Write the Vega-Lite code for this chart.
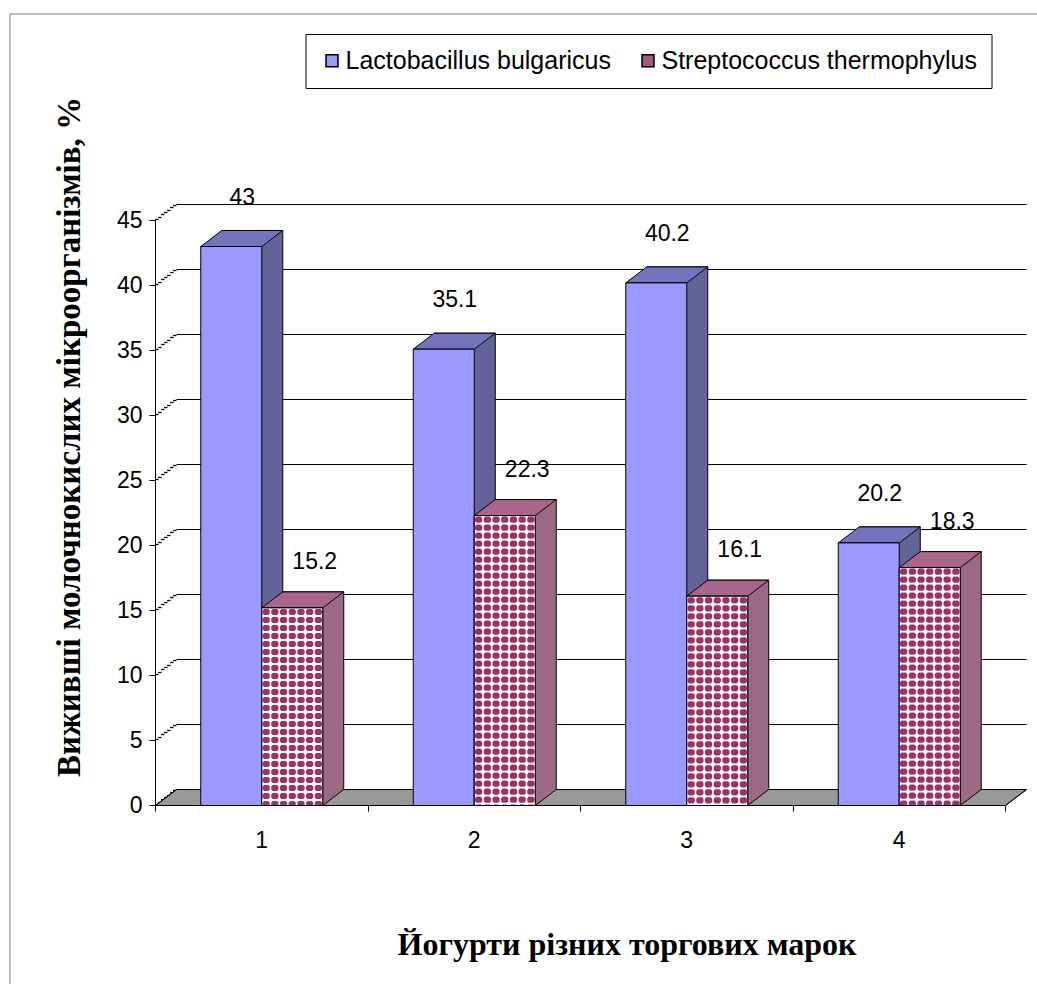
{
  "$schema": "https://vega.github.io/schema/vega-lite/v6.json",
  "autosize": {"type": "none"},
  "padding": {"left": 9.5, "top": 13.5, "right": 0, "bottom": 0},
  "width": 1027,
  "height": 970,
  "background": "white",
  "config": {
    "view": {"stroke": "#808080", "strokeWidth": 1, "strokeDash": [1027, 1997, 970, 0]},
    "font": "Liberation Sans",
    "style": {
      "spheres": {
        "shape": "M-28.2,1h4.2l1.5,1.5v3.2l-1.5,1.5h-4.2l-1.5,-1.5v-3.2l1.5,-1.5m8.7,0h4.2l1.5,1.5v3.2l-1.5,1.5h-4.2l-1.5,-1.5v-3.2l1.5,-1.5m8.7,0h4.2l1.5,1.5v3.2l-1.5,1.5h-4.2l-1.5,-1.5v-3.2l1.5,-1.5m8.7,0h4.2l1.5,1.5v3.2l-1.5,1.5h-4.2l-1.5,-1.5v-3.2l1.5,-1.5m8.7,0h4.2l1.5,1.5v3.2l-1.5,1.5h-4.2l-1.5,-1.5v-3.2l1.5,-1.5m8.7,0h4.2l1.5,1.5v3.2l-1.5,1.5h-4.2l-1.5,-1.5v-3.2l1.5,-1.5m8.7,0h4.2l1.5,1.5v3.2l-1.5,1.5h-4.2l-1.5,-1.5v-3.2l1.5,-1.5m-52.2,8h4.2l1.5,1.5v3.2l-1.5,1.5h-4.2l-1.5,-1.5v-3.2l1.5,-1.5m8.7,0h4.2l1.5,1.5v3.2l-1.5,1.5h-4.2l-1.5,-1.5v-3.2l1.5,-1.5m8.7,0h4.2l1.5,1.5v3.2l-1.5,1.5h-4.2l-1.5,-1.5v-3.2l1.5,-1.5m8.7,0h4.2l1.5,1.5v3.2l-1.5,1.5h-4.2l-1.5,-1.5v-3.2l1.5,-1.5m8.7,0h4.2l1.5,1.5v3.2l-1.5,1.5h-4.2l-1.5,-1.5v-3.2l1.5,-1.5m8.7,0h4.2l1.5,1.5v3.2l-1.5,1.5h-4.2l-1.5,-1.5v-3.2l1.5,-1.5m8.7,0h4.2l1.5,1.5v3.2l-1.5,1.5h-4.2l-1.5,-1.5v-3.2l1.5,-1.5m-52.2,8h4.2l1.5,1.5v3.2l-1.5,1.5h-4.2l-1.5,-1.5v-3.2l1.5,-1.5m8.7,0h4.2l1.5,1.5v3.2l-1.5,1.5h-4.2l-1.5,-1.5v-3.2l1.5,-1.5m8.7,0h4.2l1.5,1.5v3.2l-1.5,1.5h-4.2l-1.5,-1.5v-3.2l1.5,-1.5m8.7,0h4.2l1.5,1.5v3.2l-1.5,1.5h-4.2l-1.5,-1.5v-3.2l1.5,-1.5m8.7,0h4.2l1.5,1.5v3.2l-1.5,1.5h-4.2l-1.5,-1.5v-3.2l1.5,-1.5m8.7,0h4.2l1.5,1.5v3.2l-1.5,1.5h-4.2l-1.5,-1.5v-3.2l1.5,-1.5m8.7,0h4.2l1.5,1.5v3.2l-1.5,1.5h-4.2l-1.5,-1.5v-3.2l1.5,-1.5m-52.2,8h4.2l1.5,1.5v3.2l-1.5,1.5h-4.2l-1.5,-1.5v-3.2l1.5,-1.5m8.7,0h4.2l1.5,1.5v3.2l-1.5,1.5h-4.2l-1.5,-1.5v-3.2l1.5,-1.5m8.7,0h4.2l1.5,1.5v3.2l-1.5,1.5h-4.2l-1.5,-1.5v-3.2l1.5,-1.5m8.7,0h4.2l1.5,1.5v3.2l-1.5,1.5h-4.2l-1.5,-1.5v-3.2l1.5,-1.5m8.7,0h4.2l1.5,1.5v3.2l-1.5,1.5h-4.2l-1.5,-1.5v-3.2l1.5,-1.5m8.7,0h4.2l1.5,1.5v3.2l-1.5,1.5h-4.2l-1.5,-1.5v-3.2l1.5,-1.5m8.7,0h4.2l1.5,1.5v3.2l-1.5,1.5h-4.2l-1.5,-1.5v-3.2l1.5,-1.5m-52.2,8h4.2l1.5,1.5v3.2l-1.5,1.5h-4.2l-1.5,-1.5v-3.2l1.5,-1.5m8.7,0h4.2l1.5,1.5v3.2l-1.5,1.5h-4.2l-1.5,-1.5v-3.2l1.5,-1.5m8.7,0h4.2l1.5,1.5v3.2l-1.5,1.5h-4.2l-1.5,-1.5v-3.2l1.5,-1.5m8.7,0h4.2l1.5,1.5v3.2l-1.5,1.5h-4.2l-1.5,-1.5v-3.2l1.5,-1.5m8.7,0h4.2l1.5,1.5v3.2l-1.5,1.5h-4.2l-1.5,-1.5v-3.2l1.5,-1.5m8.7,0h4.2l1.5,1.5v3.2l-1.5,1.5h-4.2l-1.5,-1.5v-3.2l1.5,-1.5m8.7,0h4.2l1.5,1.5v3.2l-1.5,1.5h-4.2l-1.5,-1.5v-3.2l1.5,-1.5m-52.2,8",
        "size": 4, "strokeWidth": 0, "opacity": 1
      }
    }
  },
  "data": {
    "values": [
      {"brand": "1", "series": "Lactobacillus bulgaricus", "value": 43},
      {"brand": "1", "series": "Streptococcus thermophylus", "value": 15.2},
      {"brand": "2", "series": "Lactobacillus bulgaricus", "value": 35.1},
      {"brand": "2", "series": "Streptococcus thermophylus", "value": 22.3},
      {"brand": "3", "series": "Lactobacillus bulgaricus", "value": 40.2},
      {"brand": "3", "series": "Streptococcus thermophylus", "value": 16.1},
      {"brand": "4", "series": "Lactobacillus bulgaricus", "value": 20.2},
      {"brand": "4", "series": "Streptococcus thermophylus", "value": 18.3}
    ]
  },
  "resolve": {"scale": {"xOffset": "independent"}, "axis": {"x": "independent", "y": "independent"}},
  "layer": [
    {
      "mark": {"type": "point", "shape": "M-106,-0.5L106.9,-0.5L126.9,-15.5L-86,-15.5Z", "size": 4, "filled": true, "fill": "#999999", "strokeWidth": 0, "opacity": 1},
      "encoding": {
        "x": {"field": "brand", "type": "nominal", "scale": {"type": "band", "range": [146, 996], "paddingInner": 0, "paddingOuter": 0}, "axis": null},
        "y": {
          "datum": 0, "type": "quantitative",
          "scale": {"domain": [0, 45], "range": [792, 207], "nice": false, "zero": true},
          "axis": {"orient": "left", "translate": 21, "tickOffset": -37, "values": [0, 5, 10, 15, 20, 25, 30, 35, 40, 45], "grid": true, "gridColor": "black", "gridWidth": 1, "gridOpacity": 1, "domain": false, "ticks": false, "labels": false, "title": null}
        }
      }
    },
    {
      "transform": [{"filter": "datum.brand === '1' || datum.brand === '4'"}],
      "mark": {"type": "point", "size": 4, "filled": false, "color": "black", "strokeWidth": 1, "opacity": 1},
      "encoding": {
        "x": {"field": "brand", "type": "nominal", "axis": null},
        "y": {"datum": 0, "type": "quantitative",
          "axis": {"orient": "left", "translate": 0, "offset": -149, "tickOffset": -1.14, "tickSize": 3.4, "tickWidth": 1.3, "tickColor": "black", "values": [0, 5, 10, 15, 20, 25, 30, 35, 40, 45], "grid": false, "domain": false, "labels": false, "title": null}},
        "shape": {"condition": {"test": "datum.brand === '1'", "value": "M-106.25,0L-85.25,-16"}, "value": "M106.25,0L127.25,-16"}
      }
    },
    {
      "mark": {"type": "bar", "yOffset": -16, "stroke": "black", "strokeWidth": 1},
      "encoding": {
        "x": {"field": "brand", "type": "nominal", "axis": null},
        "xOffset": {"field": "series", "type": "nominal", "scale": {"type": "band", "domain": ["Lactobacillus bulgaricus", "Streptococcus thermophylus"], "range": [21, 233.5], "paddingInner": 0, "paddingOuter": 0.742}},
        "y": {"field": "value", "type": "quantitative",
          "axis": {"orient": "left", "translate": 0, "offset": -152, "tickOffset": -3.43, "tickSize": 3.4, "tickWidth": 1.3, "tickColor": "black", "values": [0, 5, 10, 15, 20, 25, 30, 35, 40, 45], "grid": false, "domain": false, "labels": false, "title": null}},
        "fill": {"condition": {"test": "datum.series === 'Lactobacillus bulgaricus'", "value": "#636398"}, "value": "#9C6A84"}
      }
    },
    {
      "mark": {"type": "point", "shape": "M30.5,0.5L30.5,-17L52,-17Z", "size": 4, "filled": true, "strokeWidth": 0, "opacity": 1},
      "encoding": {
        "x": {"field": "brand", "type": "nominal", "axis": null},
        "xOffset": {"field": "series", "type": "nominal", "scale": {"type": "band", "domain": ["Lactobacillus bulgaricus", "Streptococcus thermophylus"], "paddingInner": 0, "paddingOuter": 0.742}},
        "y": {"datum": 0, "type": "quantitative",
          "axis": {"orient": "left", "translate": 0, "offset": -155, "tickOffset": -5.71, "tickSize": 3.4, "tickWidth": 1.3, "tickColor": "black", "values": [0, 5, 10, 15, 20, 25, 30, 35, 40, 45], "grid": false, "domain": false, "labels": false, "title": null}},
        "fill": {"condition": {"test": "datum.series === 'Lactobacillus bulgaricus'", "value": "#636398"}, "value": "#9C6A84"}
      }
    },
    {
      "mark": {"type": "point", "shape": "M30.5,0L51.5,-16", "size": 4, "filled": false, "color": "black", "strokeWidth": 1, "opacity": 1},
      "encoding": {
        "x": {"field": "brand", "type": "nominal", "axis": null},
        "xOffset": {"field": "series", "type": "nominal", "scale": {"type": "band", "domain": ["Lactobacillus bulgaricus", "Streptococcus thermophylus"], "paddingInner": 0, "paddingOuter": 0.742}},
        "y": {"datum": 0, "type": "quantitative",
          "axis": {"orient": "left", "translate": 0, "offset": -158, "tickOffset": -8, "tickSize": 3.4, "tickWidth": 1.3, "tickColor": "black", "values": [0, 5, 10, 15, 20, 25, 30, 35, 40, 45], "grid": false, "domain": false, "labels": false, "title": null}}
      }
    },
    {
      "mark": {"type": "point", "shape": "M-30.5,0L30.5,0L51.5,-16L-9.5,-16Z", "size": 4, "filled": true, "stroke": "black", "strokeWidth": 1, "opacity": 1},
      "encoding": {
        "x": {"field": "brand", "type": "nominal", "axis": null},
        "xOffset": {"field": "series", "type": "nominal", "scale": {"type": "band", "domain": ["Lactobacillus bulgaricus", "Streptococcus thermophylus"], "paddingInner": 0, "paddingOuter": 0.742}},
        "y": {"field": "value", "type": "quantitative",
          "axis": {"orient": "left", "translate": 0, "offset": -161, "tickOffset": -10.29, "tickSize": 3.4, "tickWidth": 1.3, "tickColor": "black", "values": [0, 5, 10, 15, 20, 25, 30, 35, 40, 45], "grid": false, "domain": false, "labels": false, "title": null}},
        "fill": {"condition": {"test": "datum.series === 'Lactobacillus bulgaricus'", "value": "#7474BC"}, "value": "#A8668A"}
      }
    },
    {
      "mark": {"type": "bar", "stroke": "black", "strokeWidth": 1},
      "encoding": {
        "x": {
          "field": "brand", "type": "nominal",
          "axis": {"orient": "bottom", "offset": -178, "translate": 0, "zindex": 1, "tickBand": "extent", "grid": false, "domainColor": "black", "domainWidth": 1, "tickColor": "black", "tickSize": 6, "labelFont": "Liberation Sans", "labelFontSize": 23, "labelColor": "black", "labelPadding": 18, "labelAngle": 0, "title": "Йогурти різних торгових марок", "titleFont": "Liberation Serif", "titleFontSize": 32, "titleFontWeight": "bold", "titleColor": "black", "titleX": 617.5, "titleY": 139.5, "titleBaseline": "middle", "titleAlign": "center"}
        },
        "xOffset": {"field": "series", "type": "nominal", "scale": {"type": "band", "domain": ["Lactobacillus bulgaricus", "Streptococcus thermophylus"], "paddingInner": 0, "paddingOuter": 0.742}},
        "y": {
          "field": "value", "type": "quantitative",
          "axis": {"orient": "left", "offset": -146, "translate": 0, "values": [0, 5, 10, 15, 20, 25, 30, 35, 40, 45], "grid": false, "domainColor": "black", "domainWidth": 1, "tickColor": "black", "tickSize": 6, "labelFont": "Liberation Sans", "labelFontSize": 23, "labelColor": "black", "labelPadding": 7, "title": "Виживші молочнокислих мікроорганізмів, %", "titleFont": "Liberation Serif", "titleFontSize": 33, "titleFontWeight": "bold", "titleColor": "black", "titleX": -85.5, "titleY": 423.5, "titleAngle": -90, "titleBaseline": "middle", "titleAlign": "center"}
        },
        "color": {
          "field": "series", "type": "nominal",
          "scale": {"domain": ["Lactobacillus bulgaricus", "Streptococcus thermophylus"], "range": ["#9999FF", "#A85580"]},
          "legend": {
            "orient": "none", "legendX": 296, "legendY": 20.5, "direction": "horizontal", "title": null,
            "strokeColor": "black", "fillColor": "white", "padding": 14, "columnPadding": 24,
            "labelFont": "Liberation Sans", "labelFontSize": 25, "labelColor": "black", "labelLimit": 0, "labelOffset": 1,
            "symbolType": "square", "symbolSize": 144, "symbolStrokeColor": "black", "symbolStrokeWidth": 1.5, "symbolOpacity": 1,
            "encode": {"symbols": {"update": {"stroke": {"value": "black"}, "strokeWidth": {"value": 1.5}}}}
          }
        }
      }
    },
    {
      "transform": [{"filter": "datum.series === 'Streptococcus thermophylus'"}],
      "mark": {"type": "point", "shape": "M-30.5,0L30.5,0L30.5,330L-30.5,330Z", "size": 4, "filled": true, "fill": "white", "strokeWidth": 0, "opacity": 1},
      "encoding": {
        "x": {"field": "brand", "type": "nominal", "axis": null},
        "xOffset": {"field": "series", "type": "nominal", "scale": {"type": "band", "domain": ["Lactobacillus bulgaricus", "Streptococcus thermophylus"], "paddingInner": 0, "paddingOuter": 0.742}},
        "y": {"field": "value", "type": "quantitative",
          "axis": {"orient": "left", "translate": 0, "offset": -164, "tickOffset": -12.57, "tickSize": 3.4, "tickWidth": 1.3, "tickColor": "black", "values": [0, 5, 10, 15, 20, 25, 30, 35, 40, 45], "grid": false, "domain": false, "labels": false, "title": null}}
      }
    },
    {
      "transform": [{"filter": "datum.series === 'Streptococcus thermophylus'"}],
      "mark": {"type": "point", "style": "spheres", "filled": true, "fill": "#993366"},
      "encoding": {
        "x": {"field": "brand", "type": "nominal", "axis": null},
        "xOffset": {"field": "series", "type": "nominal", "scale": {"type": "band", "domain": ["Lactobacillus bulgaricus", "Streptococcus thermophylus"], "paddingInner": 0, "paddingOuter": 0.742}},
        "y": {"field": "value", "type": "quantitative",
          "axis": {"orient": "left", "translate": 0, "offset": -167, "tickOffset": -14.86, "tickSize": 3.4, "tickWidth": 1.3, "tickColor": "black", "values": [0, 5, 10, 15, 20, 25, 30, 35, 40, 45], "grid": false, "domain": false, "labels": false, "title": null}}
      }
    },
    {
      "transform": [{"filter": "datum.series === 'Streptococcus thermophylus'"}],
      "mark": {"type": "point", "style": "spheres", "filled": true, "fill": "#993366", "yOffset": 40},
      "encoding": {
        "x": {"field": "brand", "type": "nominal", "axis": null},
        "xOffset": {"field": "series", "type": "nominal", "scale": {"type": "band", "domain": ["Lactobacillus bulgaricus", "Streptococcus thermophylus"], "paddingInner": 0, "paddingOuter": 0.742}},
        "y": {"field": "value", "type": "quantitative", "axis": null}
      }
    },
    {
      "transform": [{"filter": "datum.series === 'Streptococcus thermophylus'"}],
      "mark": {"type": "point", "style": "spheres", "filled": true, "fill": "#993366", "yOffset": 80},
      "encoding": {
        "x": {"field": "brand", "type": "nominal", "axis": null},
        "xOffset": {"field": "series", "type": "nominal", "scale": {"type": "band", "domain": ["Lactobacillus bulgaricus", "Streptococcus thermophylus"], "paddingInner": 0, "paddingOuter": 0.742}},
        "y": {"field": "value", "type": "quantitative", "axis": null}
      }
    },
    {
      "transform": [{"filter": "datum.series === 'Streptococcus thermophylus'"}],
      "mark": {"type": "point", "style": "spheres", "filled": true, "fill": "#993366", "yOffset": 120},
      "encoding": {
        "x": {"field": "brand", "type": "nominal", "axis": null},
        "xOffset": {"field": "series", "type": "nominal", "scale": {"type": "band", "domain": ["Lactobacillus bulgaricus", "Streptococcus thermophylus"], "paddingInner": 0, "paddingOuter": 0.742}},
        "y": {"field": "value", "type": "quantitative", "axis": null}
      }
    },
    {
      "transform": [{"filter": "datum.series === 'Streptococcus thermophylus'"}],
      "mark": {"type": "point", "style": "spheres", "filled": true, "fill": "#993366", "yOffset": 160},
      "encoding": {
        "x": {"field": "brand", "type": "nominal", "axis": null},
        "xOffset": {"field": "series", "type": "nominal", "scale": {"type": "band", "domain": ["Lactobacillus bulgaricus", "Streptococcus thermophylus"], "paddingInner": 0, "paddingOuter": 0.742}},
        "y": {"field": "value", "type": "quantitative", "axis": null}
      }
    },
    {
      "transform": [{"filter": "datum.series === 'Streptococcus thermophylus'"}],
      "mark": {"type": "point", "style": "spheres", "filled": true, "fill": "#993366", "yOffset": 200},
      "encoding": {
        "x": {"field": "brand", "type": "nominal", "axis": null},
        "xOffset": {"field": "series", "type": "nominal", "scale": {"type": "band", "domain": ["Lactobacillus bulgaricus", "Streptococcus thermophylus"], "paddingInner": 0, "paddingOuter": 0.742}},
        "y": {"field": "value", "type": "quantitative", "axis": null}
      }
    },
    {
      "transform": [{"filter": "datum.series === 'Streptococcus thermophylus'"}],
      "mark": {"type": "point", "style": "spheres", "filled": true, "fill": "#993366", "yOffset": 240},
      "encoding": {
        "x": {"field": "brand", "type": "nominal", "axis": null},
        "xOffset": {"field": "series", "type": "nominal", "scale": {"type": "band", "domain": ["Lactobacillus bulgaricus", "Streptococcus thermophylus"], "paddingInner": 0, "paddingOuter": 0.742}},
        "y": {"field": "value", "type": "quantitative", "axis": null}
      }
    },
    {
      "transform": [{"filter": "datum.series === 'Streptococcus thermophylus'"}],
      "mark": {"type": "point", "style": "spheres", "filled": true, "fill": "#993366", "yOffset": 280},
      "encoding": {
        "x": {"field": "brand", "type": "nominal", "axis": null},
        "xOffset": {"field": "series", "type": "nominal", "scale": {"type": "band", "domain": ["Lactobacillus bulgaricus", "Streptococcus thermophylus"], "paddingInner": 0, "paddingOuter": 0.742}},
        "y": {"field": "value", "type": "quantitative", "axis": null}
      }
    },
    {
      "transform": [{"filter": "datum.series === 'Streptococcus thermophylus'"}],
      "mark": {"type": "point", "shape": "M-31.5,0.5L31.5,0.5L31.5,160L-31.5,160Z", "size": 4, "filled": true, "fill": "white", "strokeWidth": 0, "opacity": 1},
      "encoding": {
        "x": {"field": "brand", "type": "nominal", "axis": null},
        "xOffset": {"field": "series", "type": "nominal", "scale": {"type": "band", "domain": ["Lactobacillus bulgaricus", "Streptococcus thermophylus"], "paddingInner": 0, "paddingOuter": 0.742}},
        "y": {"datum": 0, "type": "quantitative", "axis": null}
      }
    },
    {
      "transform": [{"filter": "datum.series === 'Streptococcus thermophylus'"}],
      "mark": {"type": "bar", "fill": "transparent", "stroke": "black", "strokeWidth": 1},
      "encoding": {
        "x": {"field": "brand", "type": "nominal", "axis": null},
        "xOffset": {"field": "series", "type": "nominal", "scale": {"type": "band", "domain": ["Lactobacillus bulgaricus", "Streptococcus thermophylus"], "paddingInner": 0, "paddingOuter": 0.742}},
        "y": {"field": "value", "type": "quantitative", "axis": null}
      }
    },
    {
      "transform": [{"filter": "datum.series === 'Lactobacillus bulgaricus'"}],
      "mark": {"type": "text", "dx": 11, "dy": -49, "font": "Liberation Sans", "fontSize": 23, "color": "black", "align": "center", "baseline": "middle"},
      "encoding": {
        "x": {"field": "brand", "type": "nominal", "axis": null},
        "xOffset": {"field": "series", "type": "nominal", "scale": {"type": "band", "domain": ["Lactobacillus bulgaricus", "Streptococcus thermophylus"], "paddingInner": 0, "paddingOuter": 0.742}},
        "y": {"field": "value", "type": "quantitative", "axis": null},
        "text": {"field": "value", "type": "quantitative"}
      }
    },
    {
      "transform": [{"filter": "datum.series === 'Streptococcus thermophylus'"}],
      "mark": {"type": "text", "dx": 22.5, "dy": -46, "font": "Liberation Sans", "fontSize": 23, "color": "black", "align": "center", "baseline": "middle"},
      "encoding": {
        "x": {"field": "brand", "type": "nominal", "axis": null},
        "xOffset": {"field": "series", "type": "nominal", "scale": {"type": "band", "domain": ["Lactobacillus bulgaricus", "Streptococcus thermophylus"], "paddingInner": 0, "paddingOuter": 0.742}},
        "y": {"field": "value", "type": "quantitative", "axis": null},
        "text": {"field": "value", "type": "quantitative"}
      }
    }
  ]
}
